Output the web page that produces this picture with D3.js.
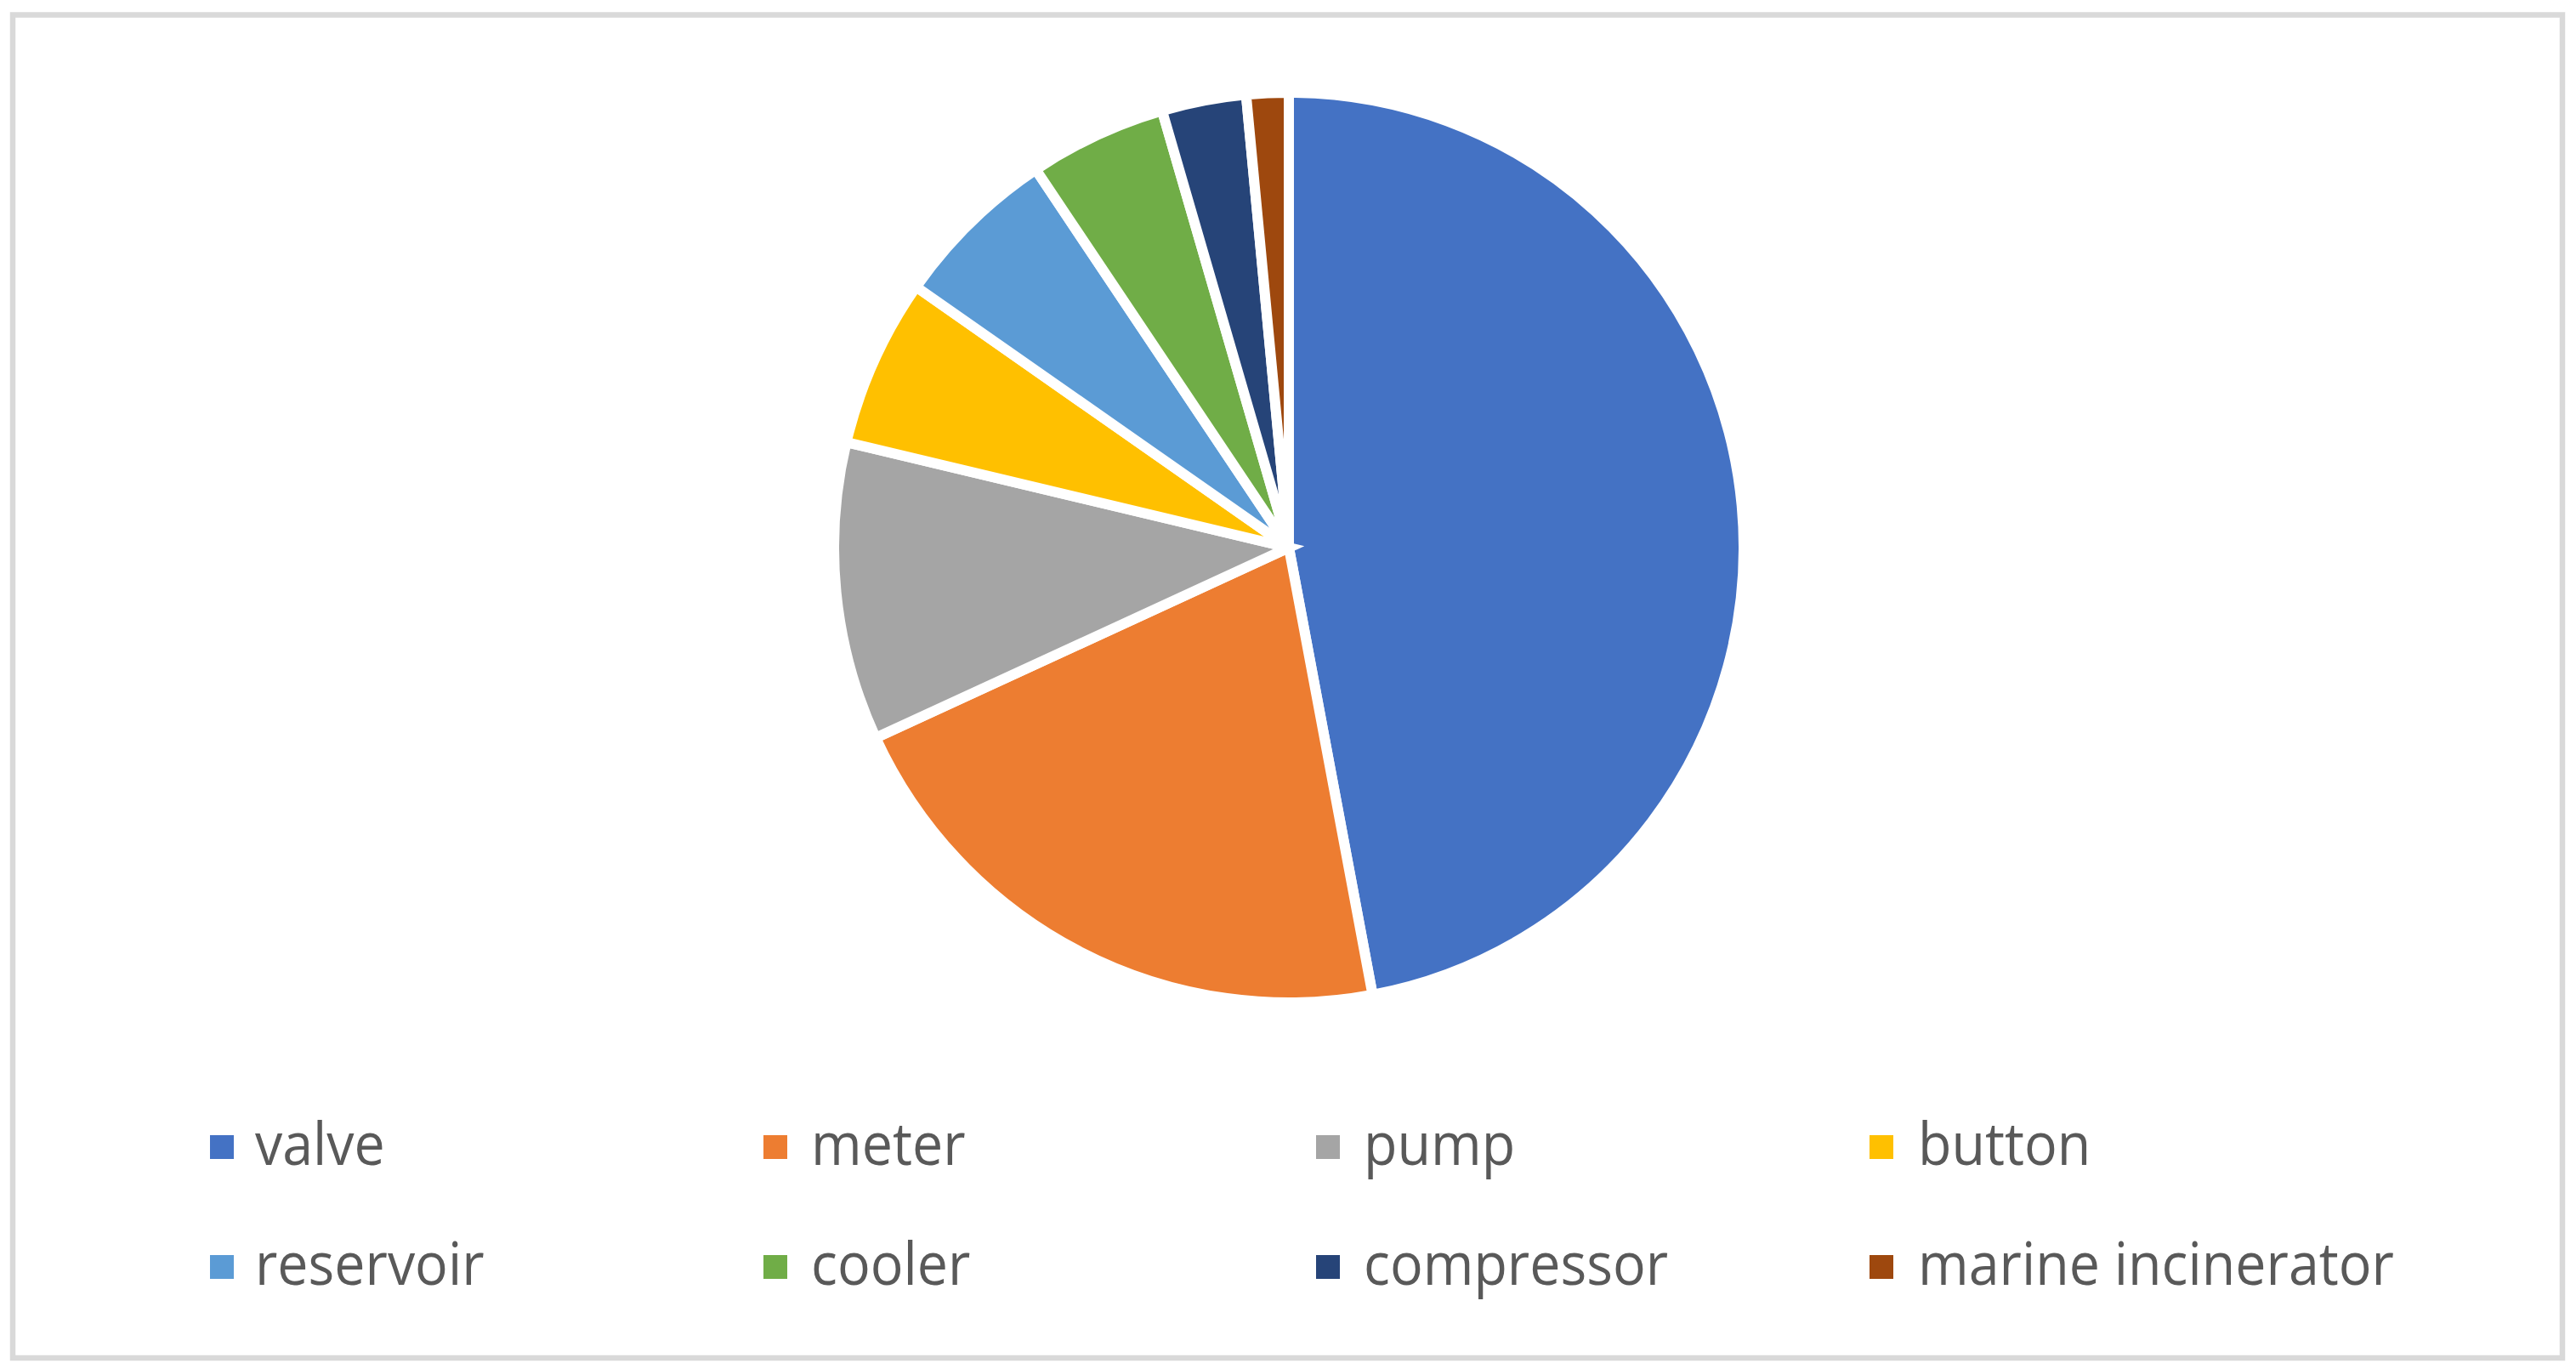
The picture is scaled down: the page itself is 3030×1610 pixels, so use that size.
<!DOCTYPE html>
<html>
<head>
<meta charset="utf-8">
<script src="https://cdn.jsdelivr.net/npm/d3@7"></script>
<style>
  html, body { margin: 0; padding: 0; background: #ffffff; }
  svg { display: block; }
</style>
</head>
<body>
<script>
const categories = ["valve", "meter", "pump", "button", "reservoir", "cooler", "compressor", "marine incinerator"];
const values = [47.1, 21.1, 10.6, 6.0, 5.9, 4.9, 3.0, 1.5];
const colors = ["#4472C4", "#ED7D31", "#A5A5A5", "#FFC000", "#5B9BD5", "#70AD47", "#264478", "#9E480E"];

const W = 3030, H = 1610;
const svg = d3.select("body").append("svg").attr("width", W).attr("height", H);

svg.append("rect").attr("x", 0).attr("y", 0).attr("width", W).attr("height", H).attr("fill", "#ffffff");
svg.append("rect")
  .attr("x", 15).attr("y", 17.5).attr("width", 2999).attr("height", 1579.5)
  .attr("fill", "none").attr("stroke", "#D9D9D9").attr("stroke-width", 6.5);

const data = categories.map((c, i) => ({ name: c, value: values[i], color: colors[i] }));
const pie = d3.pie().value(d => d.value).sort(null);
const arc = d3.arc().innerRadius(0).outerRadius(535);

const g = svg.append("g").attr("transform", "translate(1516,644)");
g.selectAll("path").data(pie(data)).join("path")
  .attr("d", arc)
  .attr("fill", d => d.data.color)
  .attr("stroke", "#ffffff")
  .attr("stroke-width", 12)
  .attr("stroke-linejoin", "miter");

// Legend
const colMarkerX = [247, 898, 1548, 2199];
const colTextX = [300, 954, 1604, 2256];
const rowBase = [1370, 1511];
const rowMarkerCY = [1349, 1490];
const leg = svg.append("g");
data.forEach((d, i) => {
  const col = i % 4, row = Math.floor(i / 4);
  leg.append("rect")
    .attr("x", colMarkerX[col]).attr("y", rowMarkerCY[row] - 14)
    .attr("width", 28).attr("height", 28)
    .attr("fill", d.color);
  leg.append("text")
    .attr("class", "lt")
    .attr("x", 0).attr("y", 0)
    .attr("transform", `translate(${colTextX[col]},${rowBase[row]})`)
    .attr("font-family", "'Open Sans', 'Noto Sans', sans-serif")
    .attr("font-size", 69)
    .attr("fill", "#595959")
    .text(d.name);
});
const ref = leg.selectAll("text.lt").filter(function() { return this.textContent === "marine incinerator"; }).node();
const w = ref.getComputedTextLength();
const sx = 560 / w;
leg.selectAll("text.lt").each(function() {
  const t = d3.select(this);
  t.attr("transform", t.attr("transform") + ` scale(${sx},1)`);
});
</script>
</body>
</html>
